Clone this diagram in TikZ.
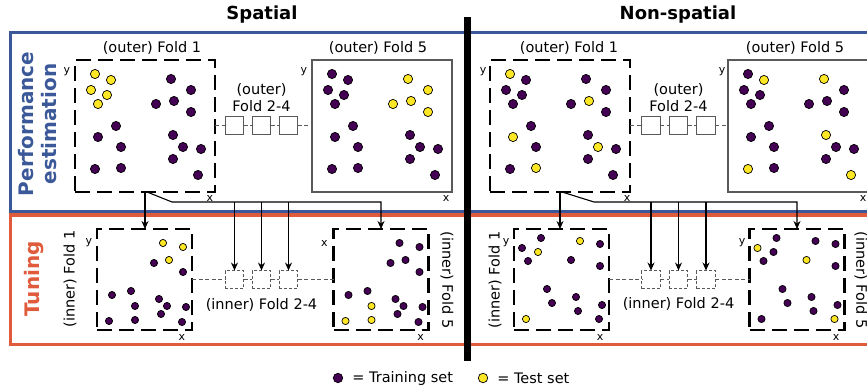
\documentclass[tikz,border=0pt]{standalone}
\usepackage{fontspec}
\setmainfont{DejaVu Sans}
\usetikzlibrary{arrows.meta, positioning}
\definecolor{perfblue}{RGB}{59,89,152}
\definecolor{tuneorange}{RGB}{224,90,60}
\definecolor{traincol}{RGB}{68,1,84}
\definecolor{testcol}{RGB}{253,231,37}
\tikzstyle{activefold} = [rectangle, draw=black, line width=2.7pt, dash pattern=on 15pt off 7pt, minimum width=140pt, minimum height=132pt, inner sep=0pt, outer sep=0pt]
\tikzstyle{restfold} = [rectangle, draw=black!65, line width=1.2pt, minimum width=140pt, minimum height=132pt, inner sep=0pt, outer sep=0pt]
\tikzstyle{innerfold} = [activefold, minimum width=95pt, minimum height=101pt]
\tikzstyle{stepbox} = [rectangle, draw=black!65, line width=1pt, minimum width=18.5pt, minimum height=18pt, inner sep=0pt, outer sep=0pt]
\tikzstyle{innerstep} = [stepbox, dash pattern=on 3pt off 2pt]
\tikzstyle{link} = [draw=black!65, line width=1pt, dash pattern=on 4pt off 2.5pt]
\tikzstyle{arrow} = [line width=1.1pt, -{Stealth[length=8pt,width=7pt]}]
\tikzstyle{train} = [fill=traincol, draw=black, line width=0.7pt]
\tikzstyle{test} = [fill=testcol, draw=black, line width=0.7pt]
\tikzstyle{foldlabel} = [inner sep=0pt, font=\fontsize{14.5}{17}\selectfont]
\tikzstyle{axislabel} = [inner sep=0pt, font=\fontsize{11}{12}\selectfont]
\tikzstyle{headlabel} = [inner sep=0pt, font=\fontsize{18}{21}\selectfont\bfseries]
\tikzstyle{rowlabel} = [inner sep=0pt, font=\fontsize{20}{23}\selectfont\bfseries, rotate=90, align=center]
% #1 radius, #2 training points, #3 test points
\newcommand{\foldpoints}[3]{%
  \foreach \a/\b in {#2} \filldraw[train] (\a,\b) circle (#1);
  \foreach \a/\b in {#3} \filldraw[test] (\a,\b) circle (#1);}

\begin{document}
\begin{tikzpicture}[x=1pt, y=-1pt]
  \useasboundingbox (0,0) rectangle (867,390);
  \clip (0,0) rectangle (867,390);

  % frames and separator
  \draw[perfblue, line width=3pt] (10.5,33) rectangle (900,212);
  \draw[tuneorange, line width=3pt] (10.5,215) rectangle (900,344);
  \fill (464,17) rectangle (471,361);

  \node (tsp) [headlabel] at (262,15) {Spatial};
  \node (tns) [headlabel] at (678,15) {Non-spatial};
  \node (lperf) [rowlabel, text=perfblue] at (38,124) {Performance\\estimation};
  \node (ltune) [rowlabel, text=tuneorange] at (34,279) {Tuning};

  % spatial, outer folds
  \node (sof1) [activefold] at (145,126) {};
  \node (sof5) [restfold] at (382,126) {};
  \node (sstep1) [stepbox] at (234.5,126) {};
  \node (sstep2) [stepbox, right=8.5pt of sstep1] {};
  \node (sstep3) [stepbox, right=8.5pt of sstep2] {};
  \draw[link] (sof1) -- (sstep1) -- (sstep2) -- (sstep3) -- (sof5);
  \node (lsof1) [foldlabel, above=5pt of sof1, xshift=7pt] {(outer) Fold 1};
  \node (lsof5) [foldlabel, above=5pt of sof5, xshift=-4pt] {(outer) Fold 5};
  \node (lsstep) [foldlabel, align=center, above=5pt of sstep2] {(outer)\\Fold 2-4};
  \node[axislabel] at ([xshift=-8pt,yshift=-12pt]sof1.north west) {y};
  \node[axislabel] at ([xshift=-5pt,yshift=-6pt]sof1.south east) {x};
  \node[axislabel] at ([xshift=-8pt,yshift=-12pt]sof5.north west) {y};
  \node[axislabel] at ([xshift=-6pt,yshift=-6pt]sof5.south east) {x};
  \begin{scope}[shift={(sof1.north west)}]
    \foldpoints{4.6pt}{96/19, 116/30, 81/44, 99/41, 116/52, 41/66, 23/77, 46/87, 20/109, 46/108, 98/75, 108/87, 126/89, 98/99, 123/115}{20/14, 36/20, 16/30, 32/35, 23/44}
  \end{scope}
  \begin{scope}[shift={(sof5.north west)}]
    \foldpoints{4.6pt}{20/14, 36/20, 16/30, 32/35, 23/44, 41/66, 23/77, 46/87, 20/109, 46/108, 98/75, 108/87, 126/89, 98/99, 123/115}{96/19, 116/30, 81/44, 99/41, 116/52}
  \end{scope}

  % spatial, inner folds
  \node (sif1) [innerfold] at (144.5,279.5) {};
  \node (sif5) [innerfold] at (381,279.5) {};
  \node (sistep1) [innerstep] at (sstep1 |- sif1) {};
  \node (sistep2) [innerstep, right=8.5pt of sistep1] {};
  \node (sistep3) [innerstep, right=8.5pt of sistep2] {};
  \draw[link] (sif1) -- (sistep1) -- (sistep2) -- (sistep3) -- (sif5);
  \node (lsif1) [foldlabel, rotate=90] at (70,279) {(inner) Fold 1};
  \node (lsif5) [foldlabel, rotate=-90] at (447,280) {(inner) Fold 5};
  \node (lsistep) [foldlabel, below=10pt of sistep2] {(inner) Fold 2-4};
  \node[axislabel] at ([xshift=-8pt,yshift=-14pt]sif1.north west) {y};
  \node[axislabel] at ([xshift=-10pt,yshift=-7pt]sif1.south east) {x};
  \node[axislabel] at ([xshift=-9pt,yshift=-14pt]sif5.north west) {x};
  \node[axislabel] at ([xshift=-8pt,yshift=-7pt]sif5.south east) {x};
  \begin{scope}[shift={(sif1.north west)}]
    \foldpoints{3.6pt}{57/34, 86/43, 15/66, 34/62, 38/77, 12/92, 38/91, 62/70, 70/77, 89/78, 64/85, 85/93}{66/14, 86/18, 72/31}
  \end{scope}
  \begin{scope}[shift={(sif5.north west)}]
    \foldpoints{3.6pt}{66/14, 86/18, 72/31, 57/34, 86/43, 15/66, 34/62, 62/70, 70/77, 89/78, 64/85, 85/93}{38/77, 12/92, 38/91}
  \end{scope}

  % spatial, connectors
  \coordinate (sbend) at (172,202);
  \draw[arrow] (sof1.south) -- (sof1.south |- sif1.north);
  \draw[arrow] ([xshift=2pt]sof1.south) -- (sbend) -| (sif5.north);
  \foreach \s in {sistep1, sistep2, sistep3}
    \draw[arrow] (\s.north |- sbend) -- (\s.north);

  % non-spatial, outer folds
  \node (nof1) [activefold] at (560,126) {};
  \node (nof5) [restfold] at (798,126) {};
  \node (nstep1) [stepbox] at (651,126) {};
  \node (nstep2) [stepbox, right=9pt of nstep1] {};
  \node (nstep3) [stepbox, right=9pt of nstep2] {};
  \draw[link] (nof1) -- (nstep1) -- (nstep2) -- (nstep3) -- (nof5);
  \node (lnof1) [foldlabel, above=5pt of nof1, xshift=9pt] {(outer) Fold 1};
  \node (lnof5) [foldlabel, above=5pt of nof5, xshift=-3pt] {(outer) Fold 5};
  \node (lnstep) [foldlabel, align=center, above=5pt of nstep2] {(outer)\\Fold 2-4};
  \node[axislabel] at ([xshift=-7pt,yshift=-12pt]nof1.north west) {y};
  \node[axislabel] at ([xshift=-3pt,yshift=-6pt]nof1.south east) {x};
  \node[axislabel] at ([xshift=-6pt,yshift=-12pt]nof5.north west) {y};
  \node[axislabel] at ([xshift=-5pt,yshift=-6pt]nof5.south east) {x};
  \begin{scope}[shift={(nof1.north west)}]
    \foldpoints{4.6pt}{36/20, 16/30, 32/35, 23/44, 96/19, 116/30, 81/44, 116/52, 41/66, 46/87, 20/109, 98/75, 126/89, 98/99, 123/115}{20/14, 99/41, 23/77, 46/108, 108/87}
  \end{scope}
  \begin{scope}[shift={(nof5.north west)}]
    \foldpoints{4.6pt}{20/14, 16/30, 32/35, 23/44, 116/30, 81/44, 99/41, 116/52, 41/66, 23/77, 46/87, 46/108, 108/87, 126/89, 98/99}{36/20, 96/19, 20/109, 98/75, 123/115}
  \end{scope}

  % non-spatial, inner folds
  \node (nif1) [innerfold] at (561.5,279.5) {};
  \node (nif5) [innerfold] at (797,279.5) {};
  \node (nistep1) [innerstep] at (nstep1 |- nif1) {};
  \node (nistep2) [innerstep, right=9pt of nistep1] {};
  \node (nistep3) [innerstep, right=9pt of nistep2] {};
  \draw[link] (nif1) -- (nistep1) -- (nistep2) -- (nistep3) -- (nif5);
  \node (lnif1) [foldlabel, rotate=90] at (495,280) {(inner) Fold 1};
  \node (lnif5) [foldlabel, rotate=-90] at (861,280) {(inner) Fold 5};
  \node (lnistep) [foldlabel, below=9pt of nistep2] {(inner) Fold 2-4};
  \node[axislabel] at ([xshift=-8pt,yshift=-14pt]nif1.north west) {y};
  \node[axislabel] at ([xshift=-9pt,yshift=-7pt]nif1.south east) {x};
  \node[axislabel] at ([xshift=-7.5pt,yshift=-14pt]nif5.north west) {y};
  \node[axislabel] at ([xshift=-8.5pt,yshift=-7pt]nif5.south east) {x};
  \begin{scope}[shift={(nif1.north west)}]
    \foldpoints{3.6pt}{8/19, 27/9, 14/32, 86/15, 57/31, 86/37, 33/60, 38/74, 62/68, 64/82, 88/76, 85/90}{24/23, 66/12, 12/90}
  \end{scope}
  \begin{scope}[shift={(nif5.north west)}]
    \foldpoints{3.6pt}{27/9, 24/23, 14/32, 66/12, 86/15, 86/37, 33/60, 38/74, 62/68, 64/82, 88/76, 12/90}{8/19, 57/31, 85/90}
  \end{scope}

  % non-spatial, connectors
  \coordinate (nbend) at (594,202);
  \draw[arrow] (nof1.south) -- (nof1.south |- nif1.north);
  \draw[arrow] ([xshift=2pt]nof1.south) -- (nbend) -| (nif5.north);
  \foreach \s in {nistep1, nistep2, nistep3}
    \draw[arrow] (\s.north |- nbend) -- (\s.north);

  % legend
  \node (ktrain) [train, circle, inner sep=0pt, minimum size=9.5pt] at (338,378) {};
  \node (ktraintext) [foldlabel, right=9pt of ktrain] {= Training set};
  \node (ktest) [test, circle, inner sep=0pt, minimum size=9.5pt] at (483,378) {};
  \node (ktesttext) [foldlabel, right=9pt of ktest] {= Test set};
\end{tikzpicture}
\end{document}
